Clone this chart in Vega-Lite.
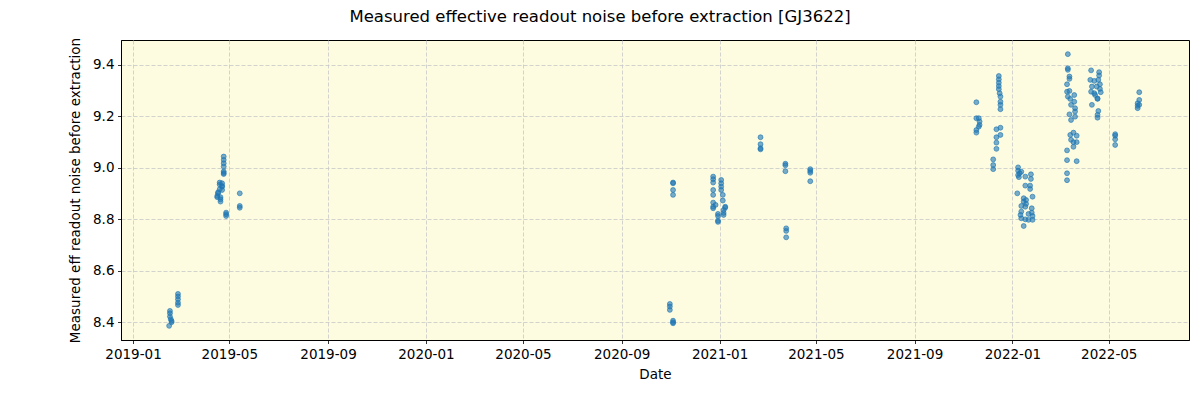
{
  "$schema": "https://vega.github.io/schema/vega-lite/v6.json",
  "width": 1068,
  "height": 300,
  "autosize": {"type": "none"},
  "padding": {"left": 121, "top": 40, "right": 11, "bottom": 60},
  "background": "white",
  "title": {
    "text": "Measured effective readout noise before extraction [GJ3622]",
    "font": "DejaVu Sans",
    "fontSize": 16.5,
    "fontWeight": "normal",
    "color": "black",
    "anchor": "middle",
    "frame": "group",
    "baseline": "alphabetic",
    "offset": -1,
    "dx": -55
  },
  "config": {
    "view": {"stroke": "black", "strokeWidth": 1, "fill": "#fdfce1"},
    "axis": {
      "labelFont": "DejaVu Sans",
      "titleFont": "DejaVu Sans",
      "labelFontSize": 13.5,
      "titleFontSize": 13.5,
      "titleFontWeight": "normal",
      "labelColor": "black",
      "titleColor": "black",
      "tickColor": "black",
      "tickSize": 3.5,
      "tickWidth": 0.8,
      "labelPadding": 3.5,
      "domainColor": "black",
      "domainWidth": 1,
      "grid": true,
      "gridColor": "#c8c8c8",
      "gridDash": [4, 2],
      "gridWidth": 0.8
    }
  },
  "data": {
    "values": [
      {"date": "2019-02-26", "noise": 8.510}, {"date": "2019-02-26", "noise": 8.500}, {"date": "2019-02-26", "noise": 8.489}, {"date": "2019-02-26", "noise": 8.476}, {"date": "2019-02-26", "noise": 8.467},
      {"date": "2019-02-16", "noise": 8.444}, {"date": "2019-02-16", "noise": 8.435}, {"date": "2019-02-16", "noise": 8.422},
      {"date": "2019-02-17", "noise": 8.412}, {"date": "2019-02-18", "noise": 8.400}, {"date": "2019-02-18", "noise": 8.405}, {"date": "2019-02-15", "noise": 8.386},

      {"date": "2019-04-24", "noise": 9.044}, {"date": "2019-04-24", "noise": 9.031}, {"date": "2019-04-24", "noise": 9.018}, {"date": "2019-04-24", "noise": 9.005}, {"date": "2019-04-24", "noise": 8.986}, {"date": "2019-04-24", "noise": 8.976}, {"date": "2019-04-24", "noise": 8.980},
      {"date": "2019-04-19", "noise": 8.943}, {"date": "2019-04-19", "noise": 8.917}, {"date": "2019-04-19", "noise": 8.935},
      {"date": "2019-04-22", "noise": 8.940}, {"date": "2019-04-22", "noise": 8.927}, {"date": "2019-04-22", "noise": 8.914}, {"date": "2019-04-22", "noise": 8.930},
      {"date": "2019-04-17", "noise": 8.901}, {"date": "2019-04-17", "noise": 8.905},
      {"date": "2019-04-16", "noise": 8.891}, {"date": "2019-04-16", "noise": 8.886},
      {"date": "2019-04-20", "noise": 8.886}, {"date": "2019-04-20", "noise": 8.869}, {"date": "2019-04-20", "noise": 8.878},
      {"date": "2019-04-27", "noise": 8.826}, {"date": "2019-04-27", "noise": 8.813}, {"date": "2019-04-27", "noise": 8.820},
      {"date": "2019-05-14", "noise": 8.901}, {"date": "2019-05-14", "noise": 8.852}, {"date": "2019-05-14", "noise": 8.845},

      {"date": "2020-11-04", "noise": 8.943}, {"date": "2020-11-04", "noise": 8.914}, {"date": "2020-11-04", "noise": 8.895}, {"date": "2020-11-04", "noise": 8.940},
      {"date": "2020-10-31", "noise": 8.471}, {"date": "2020-10-31", "noise": 8.461}, {"date": "2020-10-31", "noise": 8.448},
      {"date": "2020-11-04", "noise": 8.406}, {"date": "2020-11-04", "noise": 8.396}, {"date": "2020-11-04", "noise": 8.400},

      {"date": "2020-12-24", "noise": 8.966}, {"date": "2020-12-24", "noise": 8.956}, {"date": "2020-12-24", "noise": 8.943}, {"date": "2020-12-24", "noise": 8.914}, {"date": "2020-12-24", "noise": 8.895}, {"date": "2020-12-24", "noise": 8.865}, {"date": "2020-12-24", "noise": 8.843}, {"date": "2020-12-24", "noise": 8.849},
      {"date": "2020-12-27", "noise": 8.856},
      {"date": "2020-12-30", "noise": 8.821}, {"date": "2020-12-30", "noise": 8.813}, {"date": "2020-12-30", "noise": 8.790}, {"date": "2020-12-30", "noise": 8.795},
      {"date": "2021-01-03", "noise": 8.953}, {"date": "2021-01-03", "noise": 8.940}, {"date": "2021-01-03", "noise": 8.927}, {"date": "2021-01-03", "noise": 8.914},
      {"date": "2021-01-05", "noise": 8.895}, {"date": "2021-01-05", "noise": 8.873},
      {"date": "2021-01-08", "noise": 8.849}, {"date": "2021-01-08", "noise": 8.845},
      {"date": "2021-01-06", "noise": 8.836}, {"date": "2021-01-06", "noise": 8.817}, {"date": "2021-01-06", "noise": 8.825},

      {"date": "2021-02-21", "noise": 9.119}, {"date": "2021-02-21", "noise": 9.092}, {"date": "2021-02-21", "noise": 9.072}, {"date": "2021-02-21", "noise": 9.076},
      {"date": "2021-03-24", "noise": 9.016}, {"date": "2021-03-24", "noise": 9.010}, {"date": "2021-03-24", "noise": 8.987},
      {"date": "2021-03-25", "noise": 8.765}, {"date": "2021-03-25", "noise": 8.755}, {"date": "2021-03-25", "noise": 8.730},
      {"date": "2021-04-24", "noise": 8.995}, {"date": "2021-04-24", "noise": 8.981}, {"date": "2021-04-24", "noise": 8.948}, {"date": "2021-04-24", "noise": 8.988},

      {"date": "2021-11-17", "noise": 9.255}, {"date": "2021-11-17", "noise": 9.193}, {"date": "2021-11-17", "noise": 9.147}, {"date": "2021-11-17", "noise": 9.137},
      {"date": "2021-11-20", "noise": 9.193}, {"date": "2021-11-20", "noise": 9.160},
      {"date": "2021-11-21", "noise": 9.180}, {"date": "2021-11-21", "noise": 9.167},

      {"date": "2021-12-15", "noise": 9.357}, {"date": "2021-12-15", "noise": 9.344}, {"date": "2021-12-15", "noise": 9.331}, {"date": "2021-12-15", "noise": 9.318}, {"date": "2021-12-15", "noise": 9.306},
      {"date": "2021-12-16", "noise": 9.290},
      {"date": "2021-12-17", "noise": 9.277}, {"date": "2021-12-17", "noise": 9.257}, {"date": "2021-12-17", "noise": 9.245}, {"date": "2021-12-17", "noise": 9.228}, {"date": "2021-12-17", "noise": 9.156}, {"date": "2021-12-17", "noise": 9.128},
      {"date": "2021-12-12", "noise": 9.150}, {"date": "2021-12-12", "noise": 9.119}, {"date": "2021-12-12", "noise": 9.098}, {"date": "2021-12-12", "noise": 9.074},
      {"date": "2021-12-08", "noise": 9.033}, {"date": "2021-12-08", "noise": 9.011}, {"date": "2021-12-08", "noise": 8.995},

      {"date": "2022-01-08", "noise": 9.002}, {"date": "2022-01-08", "noise": 8.989}, {"date": "2022-01-08", "noise": 8.972},
      {"date": "2022-01-09", "noise": 8.964}, {"date": "2022-01-10", "noise": 8.979},
      {"date": "2022-01-12", "noise": 8.985}, {"date": "2022-01-12", "noise": 8.852}, {"date": "2022-01-12", "noise": 8.830}, {"date": "2022-01-12", "noise": 8.804},
      {"date": "2022-01-11", "noise": 8.817}, {"date": "2022-01-07", "noise": 8.901},
      {"date": "2022-01-17", "noise": 8.966}, {"date": "2022-01-17", "noise": 8.931}, {"date": "2022-01-17", "noise": 8.849}, {"date": "2022-01-17", "noise": 8.800},
      {"date": "2022-01-15", "noise": 8.882}, {"date": "2022-01-15", "noise": 8.869}, {"date": "2022-01-15", "noise": 8.774},
      {"date": "2022-01-18", "noise": 8.875}, {"date": "2022-01-18", "noise": 8.860},
      {"date": "2022-01-24", "noise": 8.975}, {"date": "2022-01-24", "noise": 8.957},
      {"date": "2022-01-23", "noise": 8.931}, {"date": "2022-01-23", "noise": 8.918},
      {"date": "2022-01-26", "noise": 8.888}, {"date": "2022-01-26", "noise": 8.813}, {"date": "2022-01-26", "noise": 8.798},
      {"date": "2022-01-25", "noise": 8.843}, {"date": "2022-01-25", "noise": 8.826},
      {"date": "2022-01-21", "noise": 8.821}, {"date": "2022-01-21", "noise": 8.798},

      {"date": "2022-03-11", "noise": 9.442}, {"date": "2022-03-11", "noise": 9.387}, {"date": "2022-03-11", "noise": 9.381}, {"date": "2022-03-11", "noise": 9.277},
      {"date": "2022-03-13", "noise": 9.355}, {"date": "2022-03-13", "noise": 9.346}, {"date": "2022-03-13", "noise": 9.299}, {"date": "2022-03-13", "noise": 9.208},
      {"date": "2022-03-10", "noise": 9.325}, {"date": "2022-03-10", "noise": 9.296}, {"date": "2022-03-10", "noise": 9.068}, {"date": "2022-03-10", "noise": 9.030}, {"date": "2022-03-10", "noise": 8.979}, {"date": "2022-03-10", "noise": 8.952},
      {"date": "2022-03-19", "noise": 9.283}, {"date": "2022-03-19", "noise": 9.257},
      {"date": "2022-03-14", "noise": 9.268}, {"date": "2022-03-14", "noise": 9.128},
      {"date": "2022-03-15", "noise": 9.245}, {"date": "2022-03-15", "noise": 9.186}, {"date": "2022-03-15", "noise": 9.109},
      {"date": "2022-03-20", "noise": 9.232}, {"date": "2022-03-20", "noise": 9.219}, {"date": "2022-03-20", "noise": 9.199},
      {"date": "2022-03-18", "noise": 9.137}, {"date": "2022-03-18", "noise": 9.100}, {"date": "2022-03-18", "noise": 9.082},
      {"date": "2022-03-22", "noise": 9.125}, {"date": "2022-03-22", "noise": 9.100}, {"date": "2022-03-22", "noise": 9.026},

      {"date": "2022-04-09", "noise": 9.379}, {"date": "2022-04-09", "noise": 9.296},
      {"date": "2022-04-19", "noise": 9.372}, {"date": "2022-04-19", "noise": 9.359},
      {"date": "2022-04-08", "noise": 9.342},
      {"date": "2022-04-13", "noise": 9.338}, {"date": "2022-04-13", "noise": 9.290},
      {"date": "2022-04-18", "noise": 9.342}, {"date": "2022-04-18", "noise": 9.221},
      {"date": "2022-04-20", "noise": 9.325}, {"date": "2022-04-20", "noise": 9.307},
      {"date": "2022-04-10", "noise": 9.316}, {"date": "2022-04-10", "noise": 9.245},
      {"date": "2022-04-16", "noise": 9.316}, {"date": "2022-04-14", "noise": 9.283},
      {"date": "2022-04-17", "noise": 9.268}, {"date": "2022-04-17", "noise": 9.270}, {"date": "2022-04-17", "noise": 9.206}, {"date": "2022-04-17", "noise": 9.195},
      {"date": "2022-04-21", "noise": 9.294},

      {"date": "2022-05-09", "noise": 9.131}, {"date": "2022-05-09", "noise": 9.125}, {"date": "2022-05-09", "noise": 9.111}, {"date": "2022-05-09", "noise": 9.089},
      {"date": "2022-06-08", "noise": 9.294}, {"date": "2022-06-08", "noise": 9.264}, {"date": "2022-06-08", "noise": 9.245},
      {"date": "2022-06-06", "noise": 9.251}, {"date": "2022-06-06", "noise": 9.241}, {"date": "2022-06-06", "noise": 9.232}
    ]
  },
  "mark": {
    "type": "point",
    "shape": "circle",
    "filled": true,
    "size": 24,
    "fill": "#1f77b4",
    "stroke": "#1f77b4",
    "strokeWidth": 1,
    "fillOpacity": 0.6,
    "strokeOpacity": 0.65
  },
  "encoding": {
    "x": {
      "field": "date",
      "type": "temporal",
      "title": "Date",
      "scale": {
        "type": "utc",
        "domain": [
          {"year": 2018, "month": 12, "date": 17, "utc": true},
          {"year": 2022, "month": 8, "date": 9, "utc": true}
        ],
        "nice": false
      },
      "axis": {
        "values": [
          {"year": 2019, "month": 1, "date": 1, "utc": true},
          {"year": 2019, "month": 5, "date": 1, "utc": true},
          {"year": 2019, "month": 9, "date": 1, "utc": true},
          {"year": 2020, "month": 1, "date": 1, "utc": true},
          {"year": 2020, "month": 5, "date": 1, "utc": true},
          {"year": 2020, "month": 9, "date": 1, "utc": true},
          {"year": 2021, "month": 1, "date": 1, "utc": true},
          {"year": 2021, "month": 5, "date": 1, "utc": true},
          {"year": 2021, "month": 9, "date": 1, "utc": true},
          {"year": 2022, "month": 1, "date": 1, "utc": true},
          {"year": 2022, "month": 5, "date": 1, "utc": true}
        ],
        "format": "%Y-%m",
        "labelFlush": false,
        "labelOverlap": false,
        "titlePadding": 7
      }
    },
    "y": {
      "field": "noise",
      "type": "quantitative",
      "title": "Measured eff readout noise before extraction",
      "scale": {"domain": [8.331, 9.497], "nice": false, "zero": false},
      "axis": {
        "values": [8.4, 8.6, 8.8, 9.0, 9.2, 9.4],
        "format": ".1f",
        "titlePadding": 10,
        "labelFlush": false
      }
    }
  }
}
